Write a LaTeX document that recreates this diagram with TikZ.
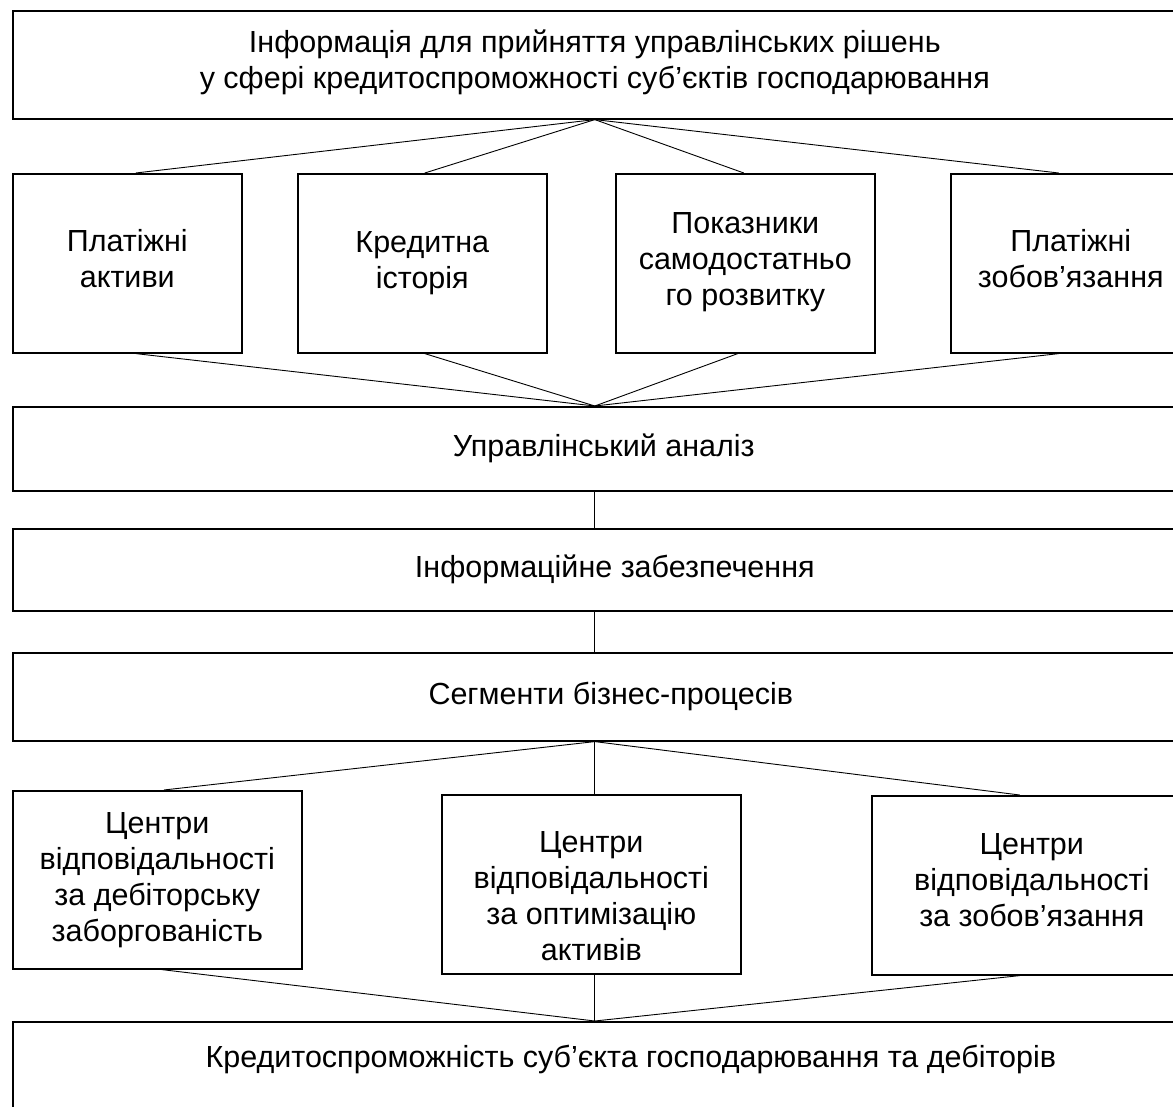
\documentclass[tikz,border=0pt]{standalone}
\usepackage{fontspec}
\setmainfont{Liberation Sans}
\usetikzlibrary{positioning}

\tikzset{
    box/.style={draw, line width=1.6pt, align=center, inner sep=0pt,
        anchor=north west, font=\fontsize{30.5}{36}\selectfont},
    link/.style={line width=0.9pt}
}

\begin{document}
\begin{tikzpicture}[x=1pt,y=-1pt]

    \fill[white] (0,0) rectangle (1173,1107);
    \useasboundingbox (0,0) rectangle (1173,1107);

    % top level
    \node[box, minimum width=1164, minimum height=108] (info) at (12,10)
        {Інформація для прийняття управлінських рішень\\у сфері кредитоспроможності суб’єктів господарювання\rule[-11pt]{0pt}{0pt}};

    % four groups of information
    \node[box, minimum width=229, minimum height=179] (plakt) at (12,173) {Платіжні\\активи\rule[-9pt]{0pt}{0pt}};
    \node[box, minimum width=249, minimum height=179] (kredist) at (297,173) {Кредитна\\історія};
    \node[box, minimum width=259, minimum height=179] (samodost) at (615,173) {Показники\\самодостатньо\\го розвитку\rule[-8pt]{0pt}{0pt}};
    \node[box, minimum width=240, minimum height=179] (plzob) at (950,173) {Платіжні\\зобов’язання\rule[-9pt]{0pt}{0pt}};

    % middle chain
    \node[box, minimum width=1182, minimum height=84] (analiz) at (12,406) {Управлінський аналіз};
    \node[box, minimum width=1204, minimum height=82] (zabezp) at (12,528) {Інформаційне забезпечення};
    \node[box, minimum width=1196, minimum height=88] (segm) at (12,652) {Сегменти бізнес-процесів};

    % responsibility centres
    \node[box, minimum width=289, minimum height=178] (cdeb) at (12,790)
        {Центри\\відповідальності\\за дебіторську\\заборгованість};
    \node[box, minimum width=299, minimum height=179] (copt) at (441,794)
        {\rule{0pt}{44pt}Центри\\відповідальності\\за оптимізацію\\активів};
    \node[box, minimum width=320, minimum height=179] (czob) at (871,795)
        {Центри\\відповідальності\\за зобов’язання\rule[-10pt]{0pt}{0pt}};

    % result
    \node[box, minimum width=1236, text height=46, text depth=70] (kred) at (12,1021)
        {Кредитоспроможність суб’єкта господарювання та дебіторів};

    % links
    \draw[link] (info.south) -- ([xshift=8.5]plakt.north);
    \draw[link] (info.south) -- ([xshift=2.5]kredist.north);
    \draw[link] (info.south) -- ([xshift=-1.5]samodost.north);
    \draw[link] (info.south) -- ([xshift=-12]plzob.north);

    \draw[link] ([xshift=8.5]plakt.south) -- (info.south |- analiz.north);
    \draw[link] ([xshift=2.5]kredist.south) -- (info.south |- analiz.north);
    \draw[link] ([xshift=-7.5]samodost.south) -- (info.south |- analiz.north);
    \draw[link] ([xshift=-12]plzob.south) -- (info.south |- analiz.north);

    \draw[link] (info.south |- analiz.south) -- (info.south |- zabezp.north);
    \draw[link] (info.south |- zabezp.south) -- (info.south |- segm.north);

    \draw[link] (info.south |- segm.south) -- ([xshift=6.5]cdeb.north);
    \draw[link] (info.south |- segm.south) -- (info.south |- copt.north);
    \draw[link] (info.south |- segm.south) -- ([xshift=-12]czob.north);

    \draw[link] ([xshift=4.5]cdeb.south) -- (info.south |- kred.north);
    \draw[link] (info.south |- copt.south) -- (info.south |- kred.north);
    \draw[link] ([xshift=-12]czob.south) -- (info.south |- kred.north);
\end{tikzpicture}
\end{document}
